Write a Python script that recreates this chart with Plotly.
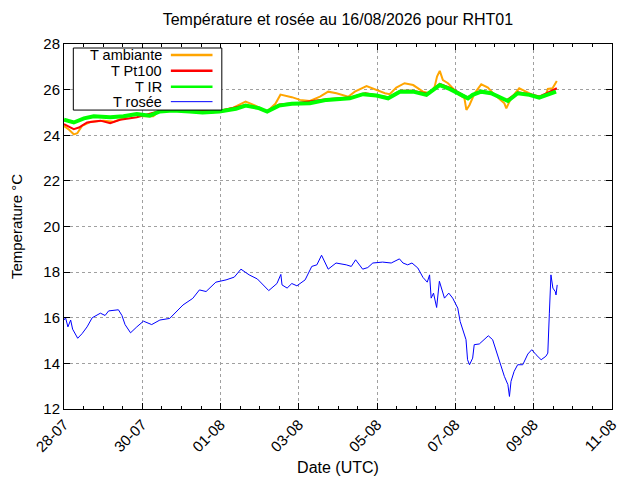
import pandas as pd
import plotly.graph_objects as go

START = pd.Timestamp("2026-07-28 00:00")

# time as fractional days since 28-07 00:00 UTC
amb_days = [0, 0.13, 0.25, 0.34, 0.46, 0.68, 1.01, 1.27, 1.52, 1.73, 2.03, 2.28, 2.45, 2.78, 3.12, 3.46, 3.8, 4.3,
            4.64, 4.89, 5.19, 5.4, 5.53, 5.82, 6.03, 6.28, 6.54, 6.75, 6.96, 7.26, 7.43, 7.73, 7.98, 8.2, 8.32,
            8.49, 8.7, 8.92, 9.17, 9.34, 9.47, 9.53, 9.6, 9.68, 9.81, 9.94, 10.1, 10.23, 10.28, 10.36, 10.49,
            10.66, 10.83, 10.96, 11.13, 11.25, 11.3, 11.42, 11.63, 11.8, 11.97, 12.14, 12.31, 12.36, 12.48, 12.59]
amb_vals = [24.41, 24.24, 24.04, 24.09, 24.41, 24.59, 24.64, 24.59, 24.74, 24.93, 24.83, 24.83, 25.08, 25.16,
            25.16, 25.08, 25.0, 25.19, 25.48, 25.3, 25.04, 25.38, 25.78, 25.67, 25.55, 25.5, 25.69, 25.91, 25.84,
            25.69, 25.91, 26.16, 25.99, 25.84, 25.8, 26.09, 26.28, 26.2, 25.91, 25.84, 26.13, 26.57, 26.82, 26.42,
            26.28, 26.06, 25.77, 25.62, 25.11, 25.33, 25.84, 26.23, 26.09, 25.84, 25.59, 25.4, 25.18, 25.62,
            26.06, 25.91, 25.77, 25.65, 25.77, 26.03, 26.06, 26.38]

pt_days = [0, 0.25, 0.38, 0.59, 0.93, 1.18, 1.43, 1.86, 2.45, 3.2, 4.0, 4.64, 5.19, 5.5, 6.0, 6.7, 7.3, 7.7,
           8.3, 8.6, 8.9, 9.3, 9.6, 9.9, 10.3, 10.65, 10.9, 11.3, 11.6, 11.9, 12.15, 12.4, 12.59]
pt_vals = [24.49, 24.27, 24.34, 24.56, 24.64, 24.53, 24.68, 24.79, 25.06, 25.06, 25.08, 25.33, 25.06, 25.35,
           25.42, 25.58, 25.65, 25.84, 25.66, 25.95, 25.95, 25.82, 26.25, 26.05, 25.66, 25.95, 25.87, 25.53,
           25.88, 25.8, 25.7, 25.9, 26.06]

ir_days = [0, 0.25, 0.51, 0.76, 1.18, 1.52, 1.86, 2.19, 2.45, 2.78, 3.21, 3.54, 3.97, 4.39, 4.64, 4.98, 5.19,
           5.49, 5.82, 6.03, 6.28, 6.71, 7.3, 7.64, 7.98, 8.28, 8.58, 8.92, 9.26, 9.51, 9.6, 9.85, 10.06, 10.32,
           10.44, 10.66, 10.91, 11.21, 11.34, 11.59, 11.89, 12.14, 12.57]
ir_vals = [24.68, 24.56, 24.74, 24.83, 24.79, 24.83, 24.93, 24.86, 25.04, 25.08, 25.04, 25.0, 25.04, 25.16, 25.3,
           25.19, 25.04, 25.3, 25.38, 25.4, 25.4, 25.55, 25.62, 25.8, 25.74, 25.62, 25.91, 25.91, 25.77, 26.09,
           26.2, 26.03, 25.84, 25.62, 25.77, 25.91, 25.84, 25.62, 25.5, 25.84, 25.77, 25.65, 25.91]

dew_days = [0, 0.04, 0.1, 0.17, 0.22, 0.3, 0.35, 0.46, 0.59, 0.72, 0.93, 1.05, 1.14, 1.39, 1.48, 1.56, 1.7, 1.86,
            2.03, 2.24, 2.45, 2.7, 2.83, 3.04, 3.29, 3.46, 3.63, 3.88, 4.14, 4.35, 4.52, 4.73, 4.94, 5.23, 5.44,
            5.54, 5.57, 5.7, 5.82, 5.95, 6.16, 6.33, 6.46, 6.58, 6.75, 6.95, 7.21, 7.34, 7.45, 7.55, 7.63, 7.76,
            7.89, 8.14, 8.36, 8.57, 8.66, 8.78, 8.89, 9.04, 9.17, 9.28, 9.34, 9.38, 9.44, 9.52, 9.59, 9.72, 9.83,
            9.93, 10.06, 10.12, 10.2, 10.27, 10.31, 10.36, 10.44, 10.48, 10.61, 10.74, 10.84, 10.95, 11.04, 11.14,
            11.25, 11.34, 11.38, 11.42, 11.5, 11.59, 11.72, 11.85, 11.95, 12.06, 12.19, 12.31, 12.36, 12.4, 12.44,
            12.49, 12.55, 12.57, 12.6]
dew_vals = [15.9, 16.0, 15.6, 15.9, 15.5, 15.24, 15.1, 15.3, 15.6, 16.0, 16.2, 16.1, 16.3, 16.35, 16.1, 15.7,
            15.34, 15.6, 15.85, 15.7, 15.9, 15.97, 16.2, 16.56, 16.85, 17.22, 17.15, 17.56, 17.66, 17.78, 18.13,
            17.88, 17.7, 17.19, 17.5, 17.9, 17.44, 17.3, 17.5, 17.4, 17.66, 18.25, 18.32, 18.74, 18.13, 18.4,
            18.32, 18.25, 18.54, 18.32, 18.13, 18.2, 18.4, 18.44, 18.4, 18.58, 18.4, 18.32, 18.4, 18.18, 17.77,
            17.56, 17.88, 16.86, 17.08, 16.45, 17.6, 16.86, 17.08, 16.86, 16.42, 15.84, 15.4, 15.04, 14.16, 13.94,
            14.23, 14.82, 14.85, 15.04, 15.21, 15.04, 14.53, 13.94, 13.43, 13.07, 12.55, 13.21, 13.65, 13.94,
            13.94, 14.41, 14.6, 14.38, 14.16, 14.31, 14.45, 16.2, 17.88, 17.3, 17.15, 17.0, 17.44]

series_names = ["T ambiante", "T Pt100", "T IR", "T rosée"]
series_colors = ["#ffa500", "#ff0000", "#00ff00", "#0000ff"]
series_widths = [2, 2, 4, 1]
legend_widths = [2.5, 2.5, 2.5, 1]
series_days = [amb_days, pt_days, ir_days, dew_days]
series_vals = [amb_vals, pt_vals, ir_vals, dew_vals]

x_tick_start = "2026-07-28"
x_range = ["2026-07-28", "2026-08-11"]
y_range = [12, 28]

FONT = "Liberation Sans"

fig = go.Figure()
for name, col, w, d, v in zip(series_names, series_colors, series_widths, series_days, series_vals):
    t = [START + pd.Timedelta(days=x) for x in d]
    fig.add_trace(go.Scatter(x=t, y=v, mode="lines", name=name,
                             line=dict(color=col, width=w), showlegend=False))

# custom gnuplot-like legend (text right-aligned, sample to the right)
fig.add_shape(type="rect", xref="paper", yref="paper", x0=0.017, x1=0.288, y0=0.819, y1=0.989,
              line=dict(color="black", width=1), fillcolor="white", layer="above")
row_y = [0.970, 0.927, 0.883, 0.842]
for name, col, lw, ry in zip(series_names, series_colors, legend_widths, row_y):
    fig.add_annotation(xref="paper", yref="paper", x=0.178, y=ry, text=name, showarrow=False,
                       xanchor="right", yanchor="middle", xshift=1, borderpad=0,
                       font=dict(family=FONT, size=14.5, color="black"))
    fig.add_shape(type="line", xref="paper", yref="paper", x0=0.195, x1=0.271, y0=ry, y1=ry,
                  line=dict(color=col, width=lw), layer="above")

# page body has an 8px margin: figure is 632x472 so that the plot sits where the reference has it
fig.update_layout(
    width=632, height=472,
    margin=dict(l=56, r=28, t=36, b=71),
    paper_bgcolor="white", plot_bgcolor="white",
    font=dict(family=FONT, size=15, color="black"),
    title=dict(text="Température et rosée au 16/08/2026 pour RHT01", x=0.522, xanchor="center",
               y=0.975, yanchor="middle", font=dict(family=FONT, size=16)),
)
fig.update_xaxes(
    type="date", range=x_range, tick0=x_tick_start, dtick=2 * 86400000, tickformat="%d-%m",
    tickangle=-45, ticks="inside", ticklen=6, tickcolor="black", automargin=False,
    tickfont=dict(family=FONT, size=15),
    showline=True, linecolor="black", linewidth=1, mirror="ticks",
    showgrid=True, gridcolor="#a0a0a0", griddash="dot", gridwidth=1,
    minor=dict(dtick=43200000, ticks="inside", ticklen=3, tickcolor="black", showgrid=False),
    title=dict(text="Date (UTC)", standoff=7, font=dict(family=FONT, size=16)), zeroline=False,
)
fig.update_yaxes(
    range=y_range, dtick=2, ticks="inside", ticklen=6, tickcolor="black", automargin=False,
    tickfont=dict(family=FONT, size=15),
    showline=True, linecolor="black", linewidth=1, mirror="ticks",
    showgrid=True, gridcolor="#a0a0a0", griddash="dot", gridwidth=1,
    title=dict(text="Temperature °C", standoff=21, font=dict(family=FONT, size=15)), zeroline=False,
)

fig.write_html("out.html")
